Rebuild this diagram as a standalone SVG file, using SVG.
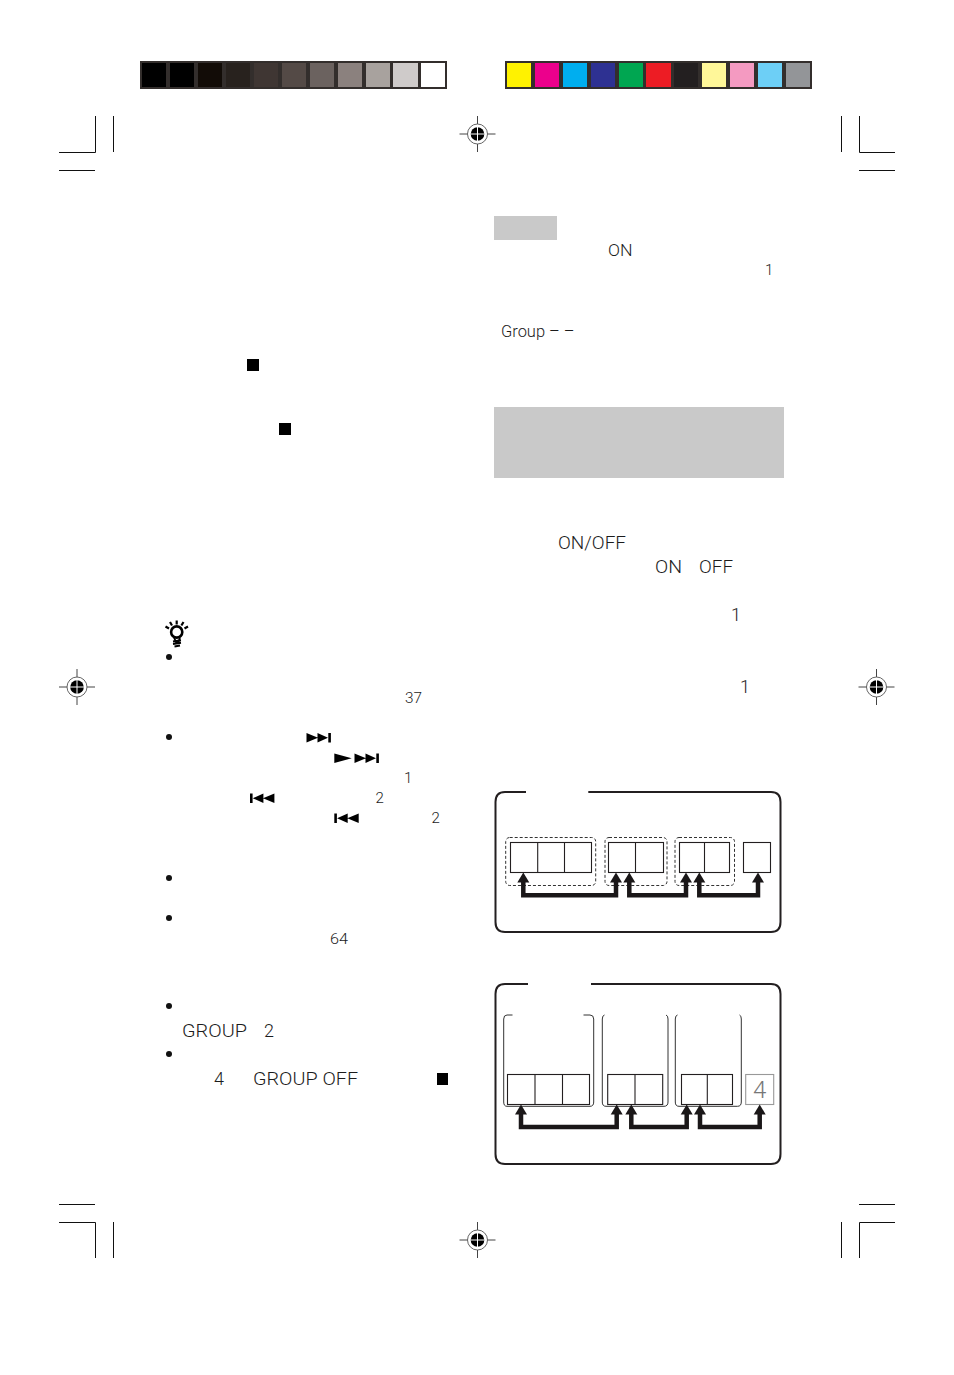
<svg xmlns="http://www.w3.org/2000/svg" xmlns:xlink="http://www.w3.org/1999/xlink" width="954" height="1375" viewBox="0 0 954 1375">
<style>
.t{font-family:Roboto,"Liberation Sans",Arial,sans-serif;font-weight:300;fill:#1c1c1c}
.s15{font-size:15px}.s16{font-size:16px}.s18{font-size:18px}
.crop{stroke:#111;stroke-width:1;fill:none}
.box{fill:#fff;stroke:#231f20;stroke-width:1.1}
.frame{fill:none;stroke:#231f20;stroke-width:2}
.dash{fill:none;stroke:#333;stroke-width:1;stroke-dasharray:3 2}
.brk{fill:none;stroke:#333;stroke-width:1}
.conn{fill:none;stroke:#1a1718;stroke-width:4.5}
.head{fill:#1a1718}
</style>
<defs>
<g id="reg"><path d="M-18 0H18M0-18V18" stroke="#444" stroke-width="1" fill="none"/><circle r="10" fill="#fff" stroke="#555" stroke-width="0.9"/><circle r="6.8" fill="#000"/><path d="M-7 0H7M0-7V7" stroke="#fff" stroke-width="1"/></g>
<path id="ah" class="head" d="M0 0L6 10H-6Z"/>
<path id="ff" fill="#000" d="M0 0L11.5 4.7L0 9.5ZM11 0L21.5 4.7L11 9.5ZM21.8 0H24.4V9.5H21.8Z"/>
<path id="rr" fill="#000" d="M24.4 0L13 4.7L24.4 9.5ZM13.4 0L2.8 4.7L13.4 9.5ZM0 0H2.6V9.5H0Z"/>
</defs>
<rect width="954" height="1375" fill="#fff"/>

<g id="gray-strip">
<rect x="140" y="61" width="307" height="28" fill="#332e2c"/>
<rect x="142" y="63" width="24" height="24" fill="#000"/>
<rect x="170" y="63" width="24" height="24" fill="#000"/>
<rect x="198" y="63" width="24" height="24" fill="#120c07"/>
<rect x="226" y="63" width="24" height="24" fill="#28221e"/>
<rect x="254" y="63" width="24" height="24" fill="#3f3633"/>
<rect x="282" y="63" width="24" height="24" fill="#544a46"/>
<rect x="310" y="63" width="24" height="24" fill="#6b625f"/>
<rect x="338" y="63" width="24" height="24" fill="#8b817e"/>
<rect x="366" y="63" width="24" height="24" fill="#a8a29e"/>
<rect x="393" y="63" width="25" height="24" fill="#cfcbca"/>
<rect x="421" y="63" width="24" height="24" fill="#fff"/>
</g>
<g id="colour-strip">
<rect x="505" y="61" width="307" height="28" fill="#332e2c"/>
<rect x="507" y="63" width="24" height="24" fill="#fff200"/>
<rect x="535" y="63" width="24" height="24" fill="#ec008c"/>
<rect x="563" y="63" width="24" height="24" fill="#00aeef"/>
<rect x="591" y="63" width="24" height="24" fill="#2e3192"/>
<rect x="619" y="63" width="24" height="24" fill="#00a651"/>
<rect x="646" y="63" width="25" height="24" fill="#ed1c24"/>
<rect x="674" y="63" width="24" height="24" fill="#231f20"/>
<rect x="702" y="63" width="24" height="24" fill="#fff799"/>
<rect x="730" y="63" width="24" height="24" fill="#f49ac1"/>
<rect x="758" y="63" width="24" height="24" fill="#6dcff6"/>
<rect x="786" y="63" width="24" height="24" fill="#939598"/>
</g>

<g id="registration-marks">
<use xlink:href="#reg" href="#reg" x="477.5" y="134"/>
<use xlink:href="#reg" href="#reg" x="77" y="687"/>
<use xlink:href="#reg" href="#reg" x="876.5" y="687"/>
<use xlink:href="#reg" href="#reg" x="477.5" y="1240"/>
</g>
<g id="crop-marks" class="crop">
<path d="M59 152.5H95.5V116M113.5 116V152M59 170.5H95"/>
<path d="M895 152.5H859.5V116M841.5 116V152M859 170.5H895"/>
<path d="M59 1222.5H95.5V1258M113.5 1222V1258M59 1204.5H95"/>
<path d="M895 1222.5H859.5V1258M841.5 1222V1258M859 1204.5H895"/>
</g>

<rect id="shade-top" x="494" y="216" width="63" height="24" fill="#c9c9c9"/>
<rect id="shade-mid" x="494" y="407" width="290" height="71" fill="#c9c9c9"/>

<g id="labels">
<text class="t s16" x="608" y="256" textLength="24.5" lengthAdjust="spacingAndGlyphs">ON</text>
<text class="t s15" x="765" y="275">1</text>
<text class="t s16" x="501" y="337" textLength="73.5" lengthAdjust="spacingAndGlyphs">Group – –</text>
<text class="t s18" x="558" y="549" textLength="68" lengthAdjust="spacingAndGlyphs">ON/OFF</text>
<text class="t s18" x="655" y="573" textLength="27" lengthAdjust="spacingAndGlyphs">ON</text>
<text class="t s18" x="699" y="573" textLength="34" lengthAdjust="spacingAndGlyphs">OFF</text>
<text class="t s18" x="731" y="621">1</text>
<text class="t s18" x="740" y="693">1</text>
<text class="t s15" x="405" y="703" textLength="17" lengthAdjust="spacingAndGlyphs">37</text>
<text class="t s15" x="404" y="783">1</text>
<text class="t s15" x="375.5" y="803">2</text>
<text class="t s15" x="431.5" y="823">2</text>
<text class="t s15" x="330" y="944" textLength="18" lengthAdjust="spacingAndGlyphs">64</text>
<text class="t s18" x="182" y="1037" textLength="65" lengthAdjust="spacingAndGlyphs">GROUP</text>
<text class="t s18" x="264" y="1037">2</text>
<text class="t s18" x="214" y="1085">4</text>
<text class="t s18" x="253" y="1085" textLength="105" lengthAdjust="spacingAndGlyphs">GROUP OFF</text>
</g>

<g id="stop-icons" fill="#000">
<rect x="247" y="359" width="12" height="12"/>
<rect x="279" y="423" width="12" height="12"/>
<rect x="437" y="1073" width="11" height="12"/>
</g>
<g id="bullets" fill="#111">
<circle cx="169" cy="657" r="3"/><circle cx="169" cy="737" r="3"/><circle cx="169" cy="878" r="3"/><circle cx="169" cy="918" r="3"/><circle cx="169" cy="1006" r="3"/><circle cx="169" cy="1054" r="3"/>
</g>
<g id="transport-icons">
<use xlink:href="#ff" href="#ff" x="306.5" y="733"/>
<path fill="#000" d="M334.3 753.5L351.7 758.2L334.3 763Z"/>
<use xlink:href="#ff" href="#ff" x="354.5" y="753.5"/>
<use xlink:href="#rr" href="#rr" x="250" y="793.5"/>
<use xlink:href="#rr" href="#rr" x="334.3" y="813.5"/>
</g>
<g id="tip-bulb" fill="none" stroke="#000">
<circle cx="176.7" cy="632" r="5.6" stroke-width="2.6"/>
<path d="M174 637.5L176 642H178.5L180 637.5" stroke-width="1.8"/>
<path d="M173 641.5L181 640.3M173 644L181 642.8M174.5 646.5L180 645.5" stroke-width="1.9"/>
<path d="M176.7 620.5V624.5M170 622L172 625.5M183.5 622L181.4 625.5M165.5 626.5L169 628.5M188 626.5L184.5 628.5" stroke-width="2.2"/>
</g>

<g id="diagram-1">
<path class="frame" d="M526 792H505Q495.5 792 495.5 802V922Q495.5 932 505 932H771Q780.5 932 780.5 922V802Q780.5 792 771 792H588.3"/>
<g id="d1-group-1"><rect class="dash" x="505.7" y="837.5" width="90" height="48" rx="4"/><rect class="box" x="510.5" y="842.5" width="81" height="30"/><path class="box" d="M537.7 842.5V872.5M564.5 842.5V872.5"/></g>
<g id="d1-group-2"><rect class="dash" x="605" y="837.5" width="62" height="48" rx="4"/><rect class="box" x="608.5" y="842.5" width="55" height="30"/><path class="box" d="M635.5 842.5V872.5"/></g>
<g id="d1-group-3"><rect class="dash" x="675" y="837.5" width="59.5" height="48" rx="4"/><rect class="box" x="679.5" y="842.5" width="50" height="30"/><path class="box" d="M704.5 842.5V872.5"/></g>
<g id="d1-group-4"><rect class="box" x="743.5" y="842.5" width="27" height="30"/></g>
<g id="d1-connectors">
<path class="conn" d="M523.3 881V895.3H616V881M629.3 881V895.3H686V881M699.3 881V895.3H758V881"/>
<use xlink:href="#ah" href="#ah" x="523.3" y="872.5"/><use xlink:href="#ah" href="#ah" x="616" y="872.5"/>
<use xlink:href="#ah" href="#ah" x="629.3" y="872.5"/><use xlink:href="#ah" href="#ah" x="686" y="872.5"/>
<use xlink:href="#ah" href="#ah" x="699.3" y="872.5"/><use xlink:href="#ah" href="#ah" x="758" y="872.5"/>
</g>
</g>

<g id="diagram-2">
<path class="frame" d="M528 984H505Q495.5 984 495.5 994V1154Q495.5 1164 505 1164H771Q780.5 1164 780.5 1154V994Q780.5 984 771 984H591"/>
<g id="d2-group-1"><path class="brk" d="M512.5 1015H507Q503.7 1015 503.7 1019V1102Q503.7 1106.3 507 1106.3H590Q593.7 1106.3 593.7 1102V1019Q593.7 1015 590 1015H583.5"/><rect class="box" x="507.5" y="1074.5" width="82" height="30"/><path class="box" d="M535 1074.5V1104.5M562.5 1074.5V1104.5"/></g>
<g id="d2-group-2"><path class="brk" d="M604.5 1015Q602.3 1015.5 602.3 1019V1102Q602.3 1106.3 606 1106.3H664Q668 1106.3 668 1102V1019Q668 1015.5 666 1015"/><rect class="box" x="607.7" y="1074.5" width="55" height="30"/><path class="box" d="M635 1074.5V1104.5"/></g>
<g id="d2-group-3"><path class="brk" d="M677.5 1015Q675.3 1015.5 675.3 1019V1102Q675.3 1106.3 679 1106.3H737.5Q741.3 1106.3 741.3 1102V1019Q741.3 1015.5 739.5 1015"/><rect class="box" x="681.5" y="1074.5" width="51" height="30"/><path class="box" d="M707.3 1074.5V1104.5"/></g>
<g id="d2-group-4"><rect x="745.7" y="1074.5" width="28" height="30" fill="#fff" stroke="#999" stroke-width="1.1"/><text x="759.7" y="1098" text-anchor="middle" font-family="Roboto,'Liberation Sans',Arial,sans-serif" font-weight="300" font-size="24" fill="#777">4</text></g>
<g id="d2-connectors">
<path class="conn" d="M521 1113V1127H616.7V1113M631.3 1113V1127H686.7V1113M700 1113V1127H759.7V1113"/>
<use xlink:href="#ah" href="#ah" x="521" y="1104.5"/><use xlink:href="#ah" href="#ah" x="616.7" y="1104.5"/>
<use xlink:href="#ah" href="#ah" x="631.3" y="1104.5"/><use xlink:href="#ah" href="#ah" x="686.7" y="1104.5"/>
<use xlink:href="#ah" href="#ah" x="700" y="1104.5"/><use xlink:href="#ah" href="#ah" x="759.7" y="1104.5"/>
</g>
</g>
</svg>
